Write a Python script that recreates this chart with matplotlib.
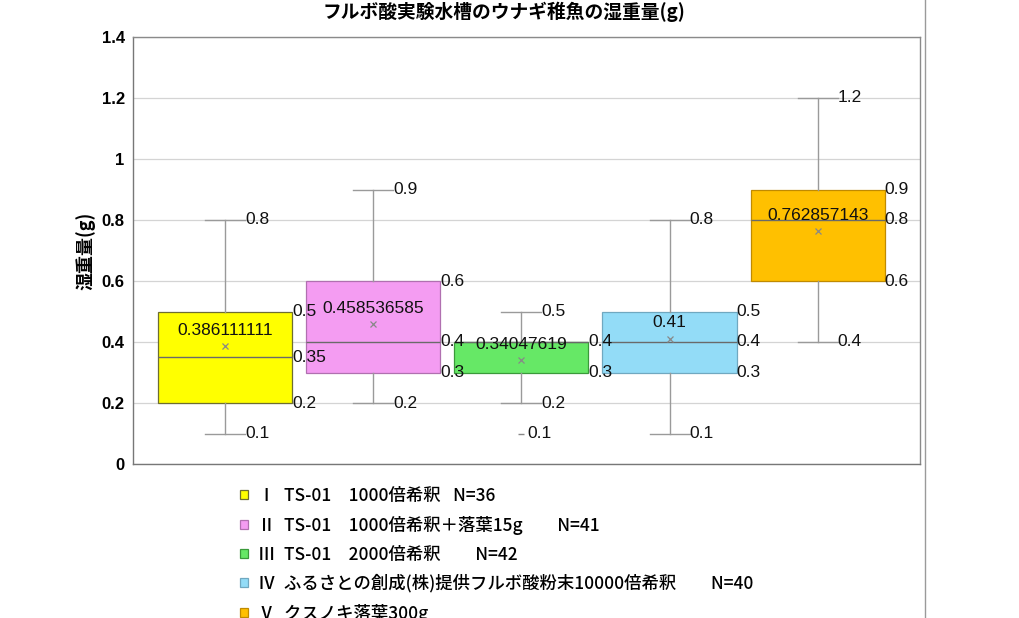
import matplotlib
matplotlib.use("Agg")
import matplotlib.pyplot as plt
from matplotlib.lines import Line2D

plt.rcParams['font.family'] = ['Noto Sans CJK JP', 'DejaVu Sans']

# ---- data ----
groups = ["Ⅰ\u2002TS-01　1000倍希釈\u2002 N=36",
          "Ⅱ\u2002TS-01　1000倍希釈＋落葉15g　　N=41",
          "Ⅲ\u2002TS-01　2000倍希釈　　N=42",
          "Ⅳ\u2002ふるさとの創成(株)提供フルボ酸粉末10000倍希釈　　N=40",
          "Ⅴ\u2002クスノキ落葉300g"]
whis_lo = [0.1, 0.2, 0.2, 0.1, 0.4]
q1 = [0.2, 0.3, 0.3, 0.3, 0.6]
median = [0.35, 0.4, 0.4, 0.4, 0.8]
q3 = [0.5, 0.6, 0.4, 0.5, 0.9]
whis_hi = [0.8, 0.9, 0.5, 0.8, 1.2]
means = [0.386111111, 0.458536585, 0.34047619, 0.41, 0.762857143]
outliers = [[], [], [0.1], [], []]
mean_labels = ["0.386111111", "0.458536585", "0.34047619", "0.41", "0.762857143"]
yticks = [0, 0.2, 0.4, 0.6, 0.8, 1, 1.2, 1.4]
ytick_labels = ["0", "0.2", "0.4", "0.6", "0.8", "1", "1.2", "1.4"]

fills = ["#FFFF00", "#F49CF2", "#66E866", "#93DCF7", "#FFC000"]
edges = ["#6E6E30", "#B070B0", "#3A9A3A", "#70A8C0", "#C08A00"]

title = "フルボ酸実験水槽のウナギ稚魚の湿重量(g)"
ylabel = "湿重量(g)"

# ---- figure ----
fig = plt.figure(figsize=(10.19, 6.18), dpi=100)
ax = fig.add_axes([133/1019, 1-464/618, 787/1019, 427/618])

stats = []
for i in range(len(groups)):
    stats.append(dict(med=median[i], q1=q1[i], q3=q3[i], whislo=whis_lo[i],
                      whishi=whis_hi[i], mean=means[i], fliers=outliers[i]))
pos = list(range(len(groups)))
bp = ax.bxp(stats, positions=pos, widths=0.905, patch_artist=True,
            showmeans=True, capwidths=0.27,
            whiskerprops=dict(color="#9a9a9a", lw=1),
            capprops=dict(color="#9a9a9a", lw=1),
            medianprops=dict(color="#6a6a6a", lw=1),
            meanprops=dict(marker='x', markersize=5, markeredgecolor="#888888",
                           markeredgewidth=0.9),
            flierprops=dict(marker='_', markersize=5, markeredgecolor="#888888"),
            zorder=3)
for patch, fc, ec in zip(bp['boxes'], fills, edges):
    patch.set_facecolor(fc)
    patch.set_edgecolor(ec)
    patch.set_linewidth(0.9)

num_font = ['Liberation Sans', 'DejaVu Sans']
lab_kw = dict(fontsize=12.5, color="#111111", va='center', ha='left',
              family=num_font, zorder=6)
for i, p in enumerate(pos):
    right = p + 0.905 / 2
    shown = set()
    for v in (q3[i], median[i], q1[i]):
        if v in shown:
            continue
        shown.add(v)
        ax.text(right, v, f"{v:g}", **lab_kw)
    ax.text(p + 0.135, whis_hi[i], f"{whis_hi[i]:g}", **lab_kw)
    ax.text(p + 0.135, whis_lo[i], f"{whis_lo[i]:g}", **lab_kw)
    for f in outliers[i]:
        ax.text(p + 0.04, f, f"{f:g}", **lab_kw)
    ax.annotate(mean_labels[i], (p, means[i]), xytext=(0, 16),
                textcoords='offset pixels', ha='center', va='center',
                fontsize=12.5, color="#111111", family=num_font, zorder=6)

ax.set_xlim(-0.62, 4.69)
ax.set_ylim(0, 1.4)
ax.set_yticks(yticks)
ax.set_yticklabels(ytick_labels, fontsize=12, fontweight='bold', family=num_font)
ax.set_xticks([])
ax.tick_params(axis='y', length=0, pad=6)
ax.yaxis.grid(True, color="#d4d4d4", lw=0.9, zorder=0)
ax.set_axisbelow(True)
for s in ax.spines.values():
    s.set_color("#8a8a8a")
    s.set_linewidth(1.0)
ax.spines['left'].set_color("#777777")
ax.spines['bottom'].set_color("#777777")

ax.set_ylabel(ylabel, fontsize=13, fontweight='bold', labelpad=4)
fig.text(504/1019, 1-12/618, title, ha='center', va='center',
         fontsize=13.5, fontweight='bold')

# vertical border line at right
fig.add_artist(Line2D([925/1019, 925/1019], [0, 1], color="#9a9a9a", lw=1,
                      transform=fig.transFigure))

leg = fig.legend(bp['boxes'], groups, loc='upper left',
                 bbox_to_anchor=(240/1019, 1-487/618), frameon=False,
                 prop=dict(size=12.5, weight='medium'),
                 handlelength=0.45, handleheight=0.45,
                 handletextpad=0.6, labelspacing=0.62, borderaxespad=0,
                 borderpad=0)

fig.savefig("out.png", dpi=100)
